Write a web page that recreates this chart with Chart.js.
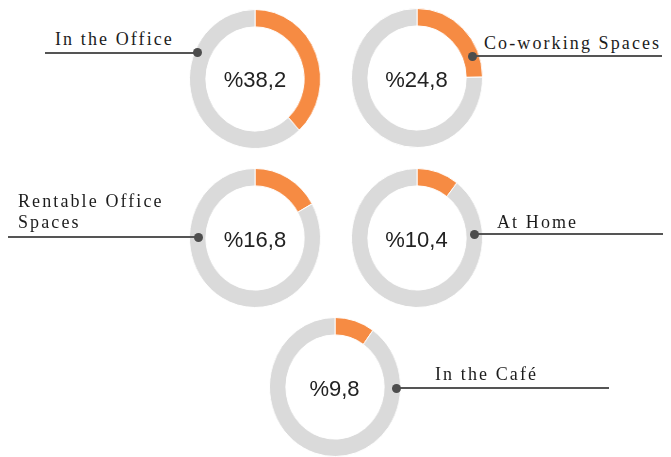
<!DOCTYPE html>
<html>
<head>
<meta charset="utf-8">
<script src="https://cdn.jsdelivr.net/npm/chart.js@4"></script>
<style>
body { margin: 0; background: #fff; }
#board { position: relative; width: 671px; height: 457px; overflow: hidden; background: #fff; }
#board canvas { position: absolute; }
.pct { position: absolute; width: 132px; text-align: center; font: 22px "Liberation Sans", Arial, sans-serif; line-height: 22px; color: #222; }
.lbl { position: absolute; font: 18px "Liberation Serif", "Times New Roman", serif; letter-spacing: 2.1px; line-height: 21px; color: #1c1c1c; white-space: nowrap; }
.lead { position: absolute; height: 2px; background: #555; }
.dot { position: absolute; width: 9px; height: 9px; border-radius: 50%; background: #4d4d4d; z-index: 2; }
</style>
</head>
<body>
<div id="board"></div>
<script>
var places = ['In the Office', 'Co-working Spaces', 'Rentable Office Spaces', 'At Home', 'In the Café'];
var shares = [38.2, 24.8, 16.8, 10.4, 9.8];

var orange = '#f68b43';
var grey   = '#dadada';

// ring centres, label anchors and leader lines for each place
var layout = [
    {cx: 255,   cy: 78.5, text: 'In the Office',              tx: 55,  ty: 29.1,  line: [45, 197, 52.7],  dot: [197, 52.7]},
    {cx: 416.5, cy: 78,   text: 'Co-working Spaces',          tx: 484, ty: 33.4,  line: [472, 662, 56.3], dot: [472, 56.3]},
    {cx: 255,   cy: 238,  text: 'Rentable Office<br>Spaces',  tx: 18,  ty: 191.1, line: [8, 198, 237.3],  dot: [198, 237.3]},
    {cx: 416.5, cy: 238,  text: 'At Home',                    tx: 497, ty: 211.7, line: [474, 663, 234],  dot: [474, 234]},
    {cx: 334.5, cy: 387,  text: 'In the Café',                tx: 435, ty: 364.4, line: [396, 609, 388.3], dot: [396, 388.3]}
];

var board = document.getElementById('board');

function addDiv(cls, css, html) {
    var d = document.createElement('div');
    d.className = cls;
    for (var k in css) d.style[k] = css[k];
    if (html) d.innerHTML = html;
    board.appendChild(d);
    return d;
}

function fmt(v) {
    return '%' + String(v).replace('.', ',');
}

places.forEach(function (name, i) {
    var p = layout[i];
    var cv = document.createElement('canvas');
    cv.width = 140;
    cv.height = 140;
    cv.style.width = '132px';
    cv.style.height = '140px';
    cv.style.left = (p.cx - 66) + 'px';
    cv.style.top = (p.cy - 70) + 'px';
    board.appendChild(cv);

    new Chart(cv.getContext('2d'), {
        type: 'doughnut',
        data: {
            labels: [name, ''],
            datasets: [{
                data: [shares[i], +(100 - shares[i]).toFixed(1)],
                backgroundColor: [orange, grey],
                borderColor: '#fff',
                borderWidth: 1
            }]
        },
        options: {
            responsive: false,
            animation: false,
            events: [],
            cutout: '75%',
            plugins: { legend: { display: false }, tooltip: { enabled: false } }
        }
    });

    addDiv('pct', { left: (p.cx - 66) + 'px', top: (p.cy + 1.5 - 10.7) + 'px' }, fmt(shares[i]));
    addDiv('lbl', { left: p.tx + 'px', top: p.ty + 'px' }, p.text);
    addDiv('lead', { left: p.line[0] + 'px', width: (p.line[1] - p.line[0]) + 'px', top: (p.line[2] - 1) + 'px' });
    addDiv('dot', { left: (p.dot[0] - 4.5) + 'px', top: (p.dot[1] - 4.5) + 'px' });
});
</script>
</body>
</html>
